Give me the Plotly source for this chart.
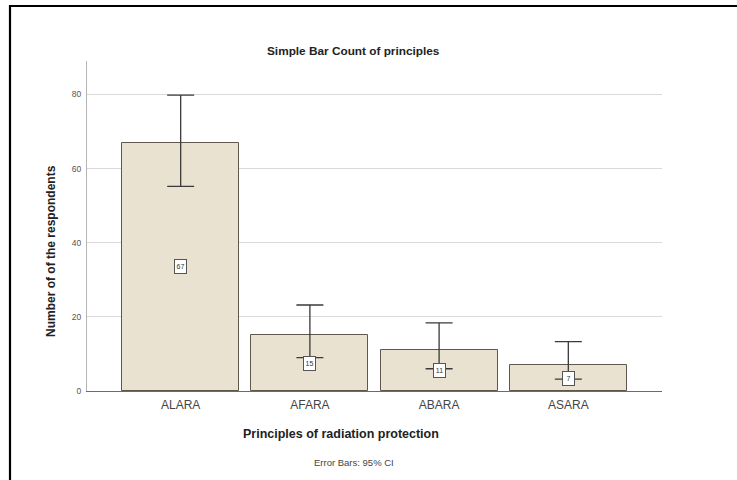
import plotly.graph_objects as go

# ---- data ----
categories = ["ALARA", "AFARA", "ABARA", "ASARA"]
counts = [67, 15, 11, 7]
ci_upper = [79.8, 23.2, 18.4, 13.3]
ci_lower = [55.2, 9.0, 6.0, 3.2]
y_ticks = [0, 20, 40, 60, 80]

W, H = 737, 480
L, R, T, B = 87, 75, 61, 89
PW, PH = W - L - R, H - T - B


def px(x):
    return (x - L) / PW


def py(y):
    return (H - B - y) / PH


FONT = "Liberation Sans, Arial, sans-serif"

fig = go.Figure()
fig.add_trace(go.Bar(
    x=list(range(len(categories))),
    y=counts,
    width=0.907,
    marker=dict(color="#E9E2D0", line=dict(color="#5E584C", width=1)),
    error_y=dict(
        type="data", symmetric=False,
        array=[u - c for u, c in zip(ci_upper, counts)],
        arrayminus=[c - l for c, l in zip(counts, ci_lower)],
        color="#3a3a3a", thickness=1.3, width=13.5,
    ),
    hoverinfo="skip",
))

annotations = []
for i, c in enumerate(counts):
    annotations.append(dict(
        x=i, y=c / 2, xref="x", yref="y", text=str(c), showarrow=False,
        font=dict(family=FONT, size=7, color="#333"),
        bgcolor="white", bordercolor="#555", borderwidth=1, borderpad=1,
        width=9, height=11, align="center", valign="middle",
    ))

annotations += [
    dict(x=px(353.5), y=py(51), xref="paper", yref="paper",
         text="<b>Simple Bar Count of principles</b>", showarrow=False,
         font=dict(family=FONT, size=11.8, color="#222"),
         xanchor="center", yanchor="middle"),
    dict(x=px(340.5), y=py(434), xref="paper", yref="paper",
         text="<b>Principles of radiation protection</b>", showarrow=False,
         font=dict(family=FONT, size=12.5, color="#222"),
         xanchor="center", yanchor="middle"),
    dict(x=px(353.5), y=py(462), xref="paper", yref="paper",
         text="Error Bars: 95% CI", showarrow=False,
         font=dict(family=FONT, size=9.5, color="#444"),
         xanchor="center", yanchor="middle"),
    dict(x=px(51), y=py(251), xref="paper", yref="paper",
         text="<b>Number of of the respondents</b>", showarrow=False,
         textangle=-90,
         font=dict(family=FONT, size=12, color="#222"),
         xanchor="center", yanchor="middle"),
]

shapes = [
    # outer black frame (left and top edges)
    dict(type="line", xref="paper", yref="paper",
         x0=px(10), x1=px(10), y0=py(5), y1=py(490),
         line=dict(color="black", width=2.2)),
    dict(type="line", xref="paper", yref="paper",
         x0=px(9), x1=px(745), y0=py(6), y1=py(6),
         line=dict(color="black", width=2.2)),
]

fig.update_layout(
    width=W, height=H,
    margin=dict(l=L, r=R, t=T, b=B, pad=0),
    paper_bgcolor="white", plot_bgcolor="white",
    showlegend=False,
    bargap=0,
    annotations=annotations,
    shapes=shapes,
    xaxis=dict(
        range=[-0.725, len(categories) - 1 + 0.725],
        tickmode="array", tickvals=list(range(len(categories))),
        ticktext=categories,
        tickfont=dict(family=FONT, size=12, color="#444"),
        showgrid=False, zeroline=False,
        showline=True, linecolor="#6a6a6a", linewidth=1,
        ticks="outside", ticklen=3, tickcolor="rgba(0,0,0,0)",
    ),
    yaxis=dict(
        range=[0, 89],
        tickmode="array", tickvals=y_ticks,
        tickfont=dict(family=FONT, size=8.5, color="#555"),
        showgrid=True, gridcolor="#d9d9d9", gridwidth=1,
        zeroline=False,
        showline=True, linecolor="#b5b5b5", linewidth=1,
        ticks="outside", ticklen=3, tickcolor="rgba(0,0,0,0)",
    ),
)

fig.write_html(
    "out.html",
    config={"displayModeBar": False},
    post_script="document.body.style.margin='0';document.body.style.overflow='hidden';",
)
